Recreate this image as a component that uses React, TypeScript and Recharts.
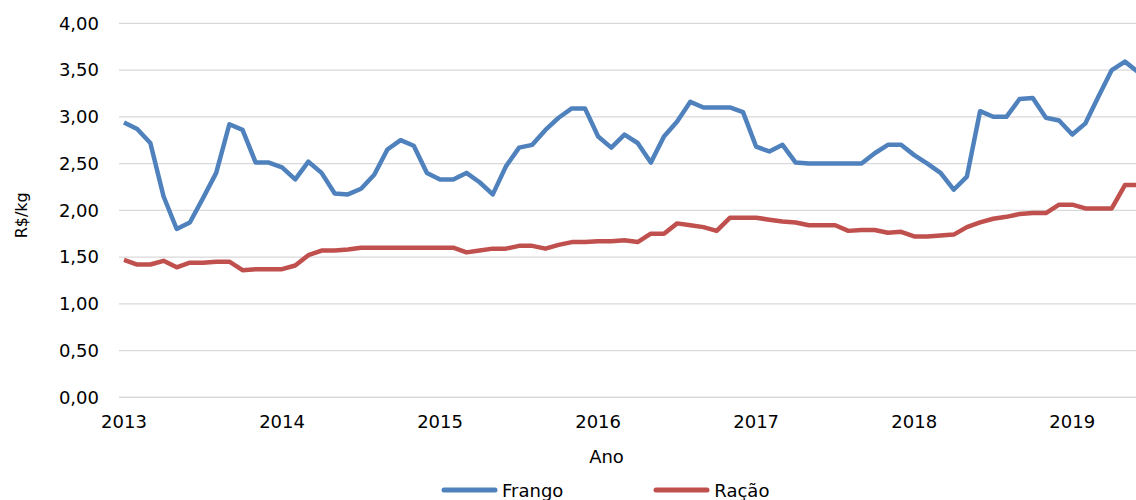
import React from 'react';
import { LineChart, Line, XAxis, YAxis, CartesianGrid, Legend, Label } from 'recharts';

// monthly prices from Jan 2013, R$/kg
const FRANGO = [
  2.94, 2.87, 2.72, 2.15, 1.80, 1.87, 2.13, 2.40, 2.92, 2.86, 2.51, 2.51,
  2.46, 2.33, 2.52, 2.40, 2.18, 2.17, 2.23, 2.38, 2.65, 2.75, 2.69, 2.40,
  2.33, 2.33, 2.40, 2.30, 2.17, 2.47, 2.67, 2.70, 2.86, 2.99, 3.09, 3.09,
  2.79, 2.67, 2.81, 2.72, 2.51, 2.79, 2.95, 3.16, 3.10, 3.10, 3.10, 3.05,
  2.68, 2.63, 2.70, 2.51, 2.50, 2.50, 2.50, 2.50, 2.50, 2.61, 2.70, 2.70,
  2.59, 2.50, 2.40, 2.22, 2.36, 3.06, 3.00, 3.00, 3.19, 3.20, 2.99, 2.96,
  2.81, 2.93, 3.22, 3.50, 3.59, 3.48,
];

const RACAO = [
  1.47, 1.42, 1.42, 1.46, 1.39, 1.44, 1.44, 1.45, 1.45, 1.36, 1.37, 1.37,
  1.37, 1.41, 1.52, 1.57, 1.57, 1.58, 1.60, 1.60, 1.60, 1.60, 1.60, 1.60,
  1.60, 1.60, 1.55, 1.57, 1.59, 1.59, 1.62, 1.62, 1.59, 1.63, 1.66, 1.66,
  1.67, 1.67, 1.68, 1.66, 1.75, 1.75, 1.86, 1.84, 1.82, 1.78, 1.92, 1.92,
  1.92, 1.90, 1.88, 1.87, 1.84, 1.84, 1.84, 1.78, 1.79, 1.79, 1.76, 1.77,
  1.72, 1.72, 1.73, 1.74, 1.82, 1.87, 1.91, 1.93, 1.96, 1.97, 1.97, 2.06,
  2.06, 2.02, 2.02, 2.02, 2.27, 2.27,
];

const YEARS = ['2013', '2014', '2015', '2016', '2017', '2018', '2019'];
const Y_TICKS = [0, 0.5, 1, 1.5, 2, 2.5, 3, 3.5, 4];

const data = FRANGO.map((v, i) => ({ m: i, frango: v, racao: RACAO[i] }));
const xTicks = YEARS.map((_, i) => i * 12);

const FONT = '"DejaVu Sans", Verdana, sans-serif';
const BLUE = '#4F81BD';
const RED = '#C0504D';

const YTitle = (props: any) => {
  const { viewBox } = props;
  const x = viewBox.x + 27;
  const y = viewBox.y + viewBox.height / 2 + 5;
  return (
    <text x={x} y={y} transform={`rotate(-90, ${x}, ${y})`} textAnchor="middle"
      fontFamily={FONT} fontSize={16} fill="#000">R$/kg</text>
  );
};

const XTitle = (props: any) => {
  const { viewBox } = props;
  return (
    <text x={viewBox.x + viewBox.width / 2 - 21} y={viewBox.y + 66} textAnchor="middle"
      fontFamily={FONT} fontSize={18} fill="#000">Ano</text>
  );
};

const renderLegend = (props: any) => {
  const { payload } = props;
  return (
    <div style={{ display: 'flex', height: 22, alignItems: 'center', fontFamily: FONT, fontSize: 18, color: '#000' }}>
      {payload.map((entry: any, i: number) => (
        <div key={entry.value} style={{ display: 'flex', alignItems: 'center', marginLeft: i === 0 ? 0 : 90 }}>
          <svg width={57} height={8} style={{ marginRight: 4 }}>
            <line x1={3} y1={4} x2={54} y2={4} stroke={entry.color} strokeWidth={5} strokeLinecap="round" />
          </svg>
          <span>{entry.value}</span>
        </div>
      ))}
    </div>
  );
};

export default function App() {
  return (
    <div style={{ width: 1136, height: 500, overflow: 'hidden', position: 'relative' }}>
      <style>{'body{margin:0}'}</style>
      <LineChart width={1136} height={500} data={data}
        margin={{ top: 23.3, right: 0, bottom: 50.7, left: 0 }}>
        <CartesianGrid vertical={false} stroke="#D9D9D9" strokeWidth={1.3} />
        <XAxis
          type="number"
          dataKey="m"
          domain={[-0.38, 76.84]}
          allowDataOverflow
          ticks={xTicks}
          tickFormatter={(v) => YEARS[Math.round(v / 12)]}
          axisLine={{ stroke: '#D9D9D9', strokeWidth: 1.3 }}
          tickLine={false}
          tickSize={0}
          tickMargin={18}
          height={30}
          tick={{ fill: '#000', fontSize: 18, fontFamily: FONT }}
        >
          <Label content={<XTitle />} />
        </XAxis>
        <YAxis
          domain={[0, 4]}
          ticks={Y_TICKS}
          width={119}
          axisLine={false}
          tickLine={false}
          tickSize={0}
          tickMargin={20}
          tickFormatter={(v) => v.toFixed(2).replace('.', ',')}
          tick={{ fill: '#000', fontSize: 18, fontFamily: FONT }}
        >
          <Label content={<YTitle />} />
        </YAxis>
        <Legend
          content={renderLegend}
          wrapperStyle={{ top: 479, left: 441, bottom: 'auto', width: 'auto' }}
        />
        <Line name="Frango" type="linear" dataKey="frango" stroke={BLUE} strokeWidth={4.5}
          strokeLinejoin="round" dot={false} activeDot={false} isAnimationActive={false} />
        <Line name="Ração" type="linear" dataKey="racao" stroke={RED} strokeWidth={4.5}
          strokeLinejoin="round" dot={false} activeDot={false} isAnimationActive={false} />
      </LineChart>
    </div>
  );
}
